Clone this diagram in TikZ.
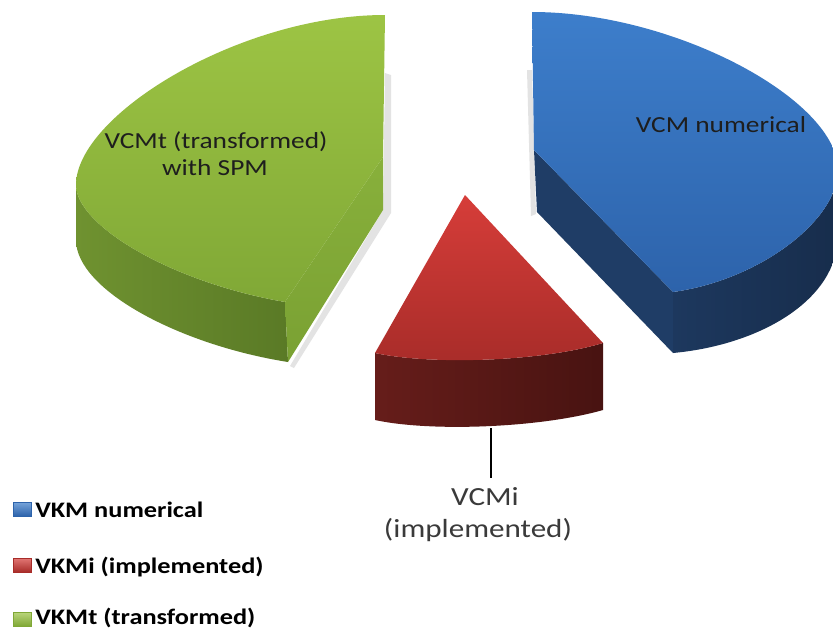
\documentclass[tikz,border=0pt]{standalone}
\usepackage{fontspec}
\setmainfont{Carlito}[FakeStretch=1.19]
\definecolor{gtopa}{HTML}{9DC444}
\definecolor{gtopb}{HTML}{80A836}
\definecolor{gsidea}{HTML}{6F9230}
\definecolor{gsideb}{HTML}{5A7A26}
\definecolor{gcuta}{HTML}{88B03B}
\definecolor{gcutb}{HTML}{7AA133}
\definecolor{btopa}{HTML}{3D7ECB}
\definecolor{btopb}{HTML}{2D63AB}
\definecolor{bsidea}{HTML}{1D385E}
\definecolor{bsideb}{HTML}{172D4C}
\definecolor{bcut}{HTML}{1F3D66}
\definecolor{rtopa}{HTML}{D63D39}
\definecolor{rtopb}{HTML}{A82C29}
\definecolor{rsidea}{HTML}{661D1A}
\definecolor{rsideb}{HTML}{481311}
\definecolor{lblcol}{HTML}{1E1E1E}
\definecolor{implcol}{HTML}{3A3A3A}
\definecolor{shadowcol}{HTML}{C8C8C8}
\tikzset{
  lbl/.style={font=\fontsize{17.25}{20}\selectfont, text=lblcol, inner sep=0pt, anchor=base},
  impl/.style={font=\fontsize{19.6}{22}\selectfont, text=implcol, inner sep=0pt, anchor=base},
  leg/.style={font=\bfseries\fontsize{16.6}{20}\selectfont, text=black, inner sep=0pt, anchor=base west},
  legbox/.style={line width=0.4pt},
  leader/.style={line width=1.4pt, draw=black},
  shadowpart/.style={fill=shadowcol, opacity=0.5}
}
\begin{document}
\begin{tikzpicture}[x=0.75pt, y=-0.75pt]
\clip (0,0) rectangle (833,629);
\fill[white] (0,0) rectangle (833,629);
% shadows
\fill[shadowpart] (385,73) -- (391,75) -- (391,213) -- (294,368) -- (290,366) -- (383,210) -- cycle;
\fill[shadowpart] (527,70) -- (532,70) -- (536,214) -- (531,216) -- cycle;
% ---- green slice ----
\path[left color=gsidea, right color=gsideb] (76,185) .. controls (76,225) and (170,282) .. (285,302) -- (288,362) .. controls (180,345) and (76,290) .. (76,240) -- cycle;
\path[top color=gcuta, bottom color=gcutb] (285,302) -- (383,157) -- (383,210) -- (288,362) -- cycle;
\path[top color=gtopa, bottom color=gtopb] (385,15) .. controls (240,15) and (76,115) .. (76,185) .. controls (76,225) and (170,282) .. (285,302) -- (383,157) -- cycle;
% ---- blue slice ----
\path[fill=bcut] (534,150) -- (673,292) -- (673,353) -- (537,212) -- cycle;
\path[left color=bsidea, right color=bsideb] (838,170) .. controls (838,220) and (760,280) .. (673,292) -- (673,353) .. controls (760,345) and (838,300) .. (838,235) -- cycle;
\path[top color=btopa, bottom color=btopb] (532,12) .. controls (675,12) and (838,100) .. (838,170) .. controls (838,220) and (760,280) .. (673,292) -- (534,150) -- cycle;
% ---- red slice ----
\path[left color=rsidea, right color=rsideb] (375,353) .. controls (430,365) and (540,362) .. (603,343) -- (603,410) .. controls (540,428) and (430,432) .. (375,420) -- cycle;
\path[top color=rtopa, bottom color=rtopb] (465,195) -- (603,343) .. controls (540,362) and (430,365) .. (375,353) -- cycle;
% ---- slice labels ----
\node[lbl] (gl1) at (216,148) {VCMt (transformed)};
\node[lbl] (gl2) at (215,175) {with SPM};
\node[lbl] (bl) at (721,132) {VCM numerical};
\coordinate (redtip) at (491,428);
\coordinate (leadend) at (491,478);
\draw[leader] (redtip) -- (leadend);
\node[impl] (rl1) at (485,505) {VCMi};
\node[impl] (rl2) at (478,537) {(implemented)};
% ---- legend ----
\path[legbox, draw=btopb, top color=btopa!70!white, bottom color=btopb] (13,502) rectangle (31,516);
\path[legbox, draw=rtopb, top color=rtopa!70!white, bottom color=rtopb] (13,558) rectangle (31,572);
\path[legbox, draw=gtopb, top color=gtopa!70!white, bottom color=gtopb] (13,612) rectangle (31,626);
\node[leg] (lg1) at (35,517) {VKM numerical};
\node[leg] (lg2) at (35,573) {VKMi (implemented)};
\node[leg] (lg3) at (35,624) {VKMt (transformed)};
\end{tikzpicture}
\end{document}
